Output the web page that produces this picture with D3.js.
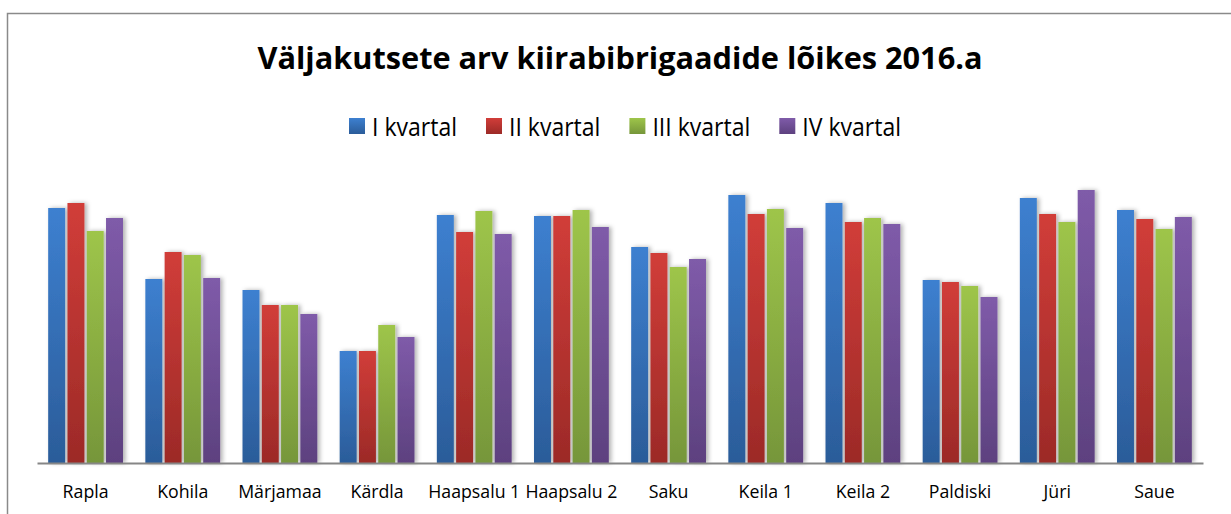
<!DOCTYPE html>
<html lang="et">
<head>
<meta charset="UTF-8">
<title>Väljakutsete arv</title>
<script src="https://d3js.org/d3.v7.min.js"></script>
<style>
  body { margin: 0; background: #fff; }
  svg { display: block; font-family: "Open Sans", "Noto Sans", sans-serif; }
</style>
</head>
<body>
<svg id="chart" width="1231" height="514"></svg>
<script>
  // data (calls per quarter, estimated)
  const categories = ["Rapla", "Kohila", "Märjamaa", "Kärdla", "Haapsalu 1", "Haapsalu 2",
    "Saku", "Keila 1", "Keila 2", "Paldiski", "Jüri", "Saue"];
  const seriesNames = ["I kvartal", "II kvartal", "III kvartal", "IV kvartal"];
  const q1 = [255, 184, 173, 112, 248, 247, 216, 268, 260, 183, 265, 253];
  const q2 = [260, 211, 158, 112, 231, 247, 210, 249, 241, 181, 249, 244];
  const q3 = [232, 208, 158, 138, 252, 253, 196, 254, 245, 177, 241, 234];
  const q4 = [245, 185, 149, 126, 229, 236, 204, 235, 239, 166, 273, 246];
  const series = [q1, q2, q3, q4];
  const colorsTop = ["#3d80d0", "#d13d39", "#9ec54a", "#7f5ba9"];
  const colorsBottom = ["#2b5c99", "#9c2a27", "#76963a", "#5d417f"];

  const svg = d3.select("#chart");

  // outer frame (chart area border, cut off at right/bottom)
  svg.append("path")
    .attr("d", "M7.5,1240 V13.5 H1240")
    .attr("fill", "none")
    .attr("stroke", "#8a8a8a")
    .attr("stroke-width", 1.5);

  const defs = svg.append("defs");
  series.forEach((s, i) => {
    const g = defs.append("linearGradient")
      .attr("id", "grad" + i)
      .attr("x1", 0).attr("y1", 0).attr("x2", 0).attr("y2", 1);
    g.append("stop").attr("offset", "0%").attr("stop-color", colorsTop[i]);
    g.append("stop").attr("offset", "100%").attr("stop-color", colorsBottom[i]);
  });
  const shadow = defs.append("filter").attr("id", "shadow")
    .attr("x", "-20%").attr("y", "-5%").attr("width", "160%").attr("height", "110%");
  shadow.append("feDropShadow")
    .attr("dx", 2.5).attr("dy", 0).attr("stdDeviation", 2)
    .attr("flood-color", "#000").attr("flood-opacity", 0.3);

  // squeeze text horizontally (the original font is narrower than Open Sans)
  function squeeze(sel, ratio) {
    sel.each(function () {
      const w = this.getComputedTextLength();
      d3.select(this).attr("textLength", (w * ratio).toFixed(1))
        .attr("lengthAdjust", "spacingAndGlyphs");
    });
  }

  // title
  const title = svg.append("text")
    .attr("x", 620).attr("y", 69)
    .attr("text-anchor", "middle")
    .attr("font-size", 31).attr("font-weight", "bold").attr("fill", "#000")
    .text("Väljakutsete arv kiirabibrigaadide lõikes 2016.a");
  squeeze(title, 725 / title.node().getComputedTextLength());

  // legend
  const legend = svg.append("g");
  let lx = 349;
  let legendRatio = null;
  seriesNames.forEach((name, i) => {
    legend.append("rect")
      .attr("x", lx).attr("y", 118).attr("width", 16).attr("height", 16)
      .attr("fill", "url(#grad" + i + ")");
    const t = legend.append("text")
      .attr("x", lx + 23).attr("y", 135.5)
      .attr("font-size", 26).attr("fill", "#000")
      .text(name);
    if (!legendRatio) legendRatio = 85 / t.node().getComputedTextLength();
    squeeze(t, legendRatio);
    lx += 23 + (+t.attr("textLength")) + 29;
  });

  // scales
  const x0 = d3.scaleBand().domain(categories).range([37, 1203])
    .paddingInner(0.23).paddingOuter(0.115);
  const x1 = d3.scaleBand().domain(d3.range(seriesNames.length))
    .range([0, x0.bandwidth()]).paddingInner(0.12);
  const y = d3.scaleLinear().domain([0, 300]).range([463, 163]);

  // bars
  const groups = svg.append("g").selectAll("g")
    .data(categories)
    .join("g")
    .attr("transform", d => `translate(${x0(d)},0)`);
  groups.selectAll("rect")
    .data((d, ci) => series.map((s, si) => ({ si, v: s[ci] })))
    .join("rect")
    .attr("x", d => x1(d.si))
    .attr("width", x1.bandwidth())
    .attr("y", d => y(d.v))
    .attr("height", d => y(0) - y(d.v))
    .attr("fill", d => "url(#grad" + d.si + ")")
    .attr("filter", "url(#shadow)");

  // category axis
  const axis = svg.append("g")
    .attr("transform", `translate(0,${y(0)})`)
    .call(d3.axisBottom(x0).tickSize(0).tickPadding(0));
  axis.select(".domain")
    .attr("stroke", "#868686").attr("stroke-width", 2);
  const labels = axis.selectAll("text")
    .attr("y", 34.5).attr("dy", 0)
    .attr("fill", "#000")
    .attr("font-family", "\"Open Sans\", \"Noto Sans\", sans-serif")
    .attr("font-size", 18);
  const hs = labels.filter(d => d === "Haapsalu 1");
  squeeze(labels, 92 / hs.node().getComputedTextLength());
</script>
</body>
</html>
